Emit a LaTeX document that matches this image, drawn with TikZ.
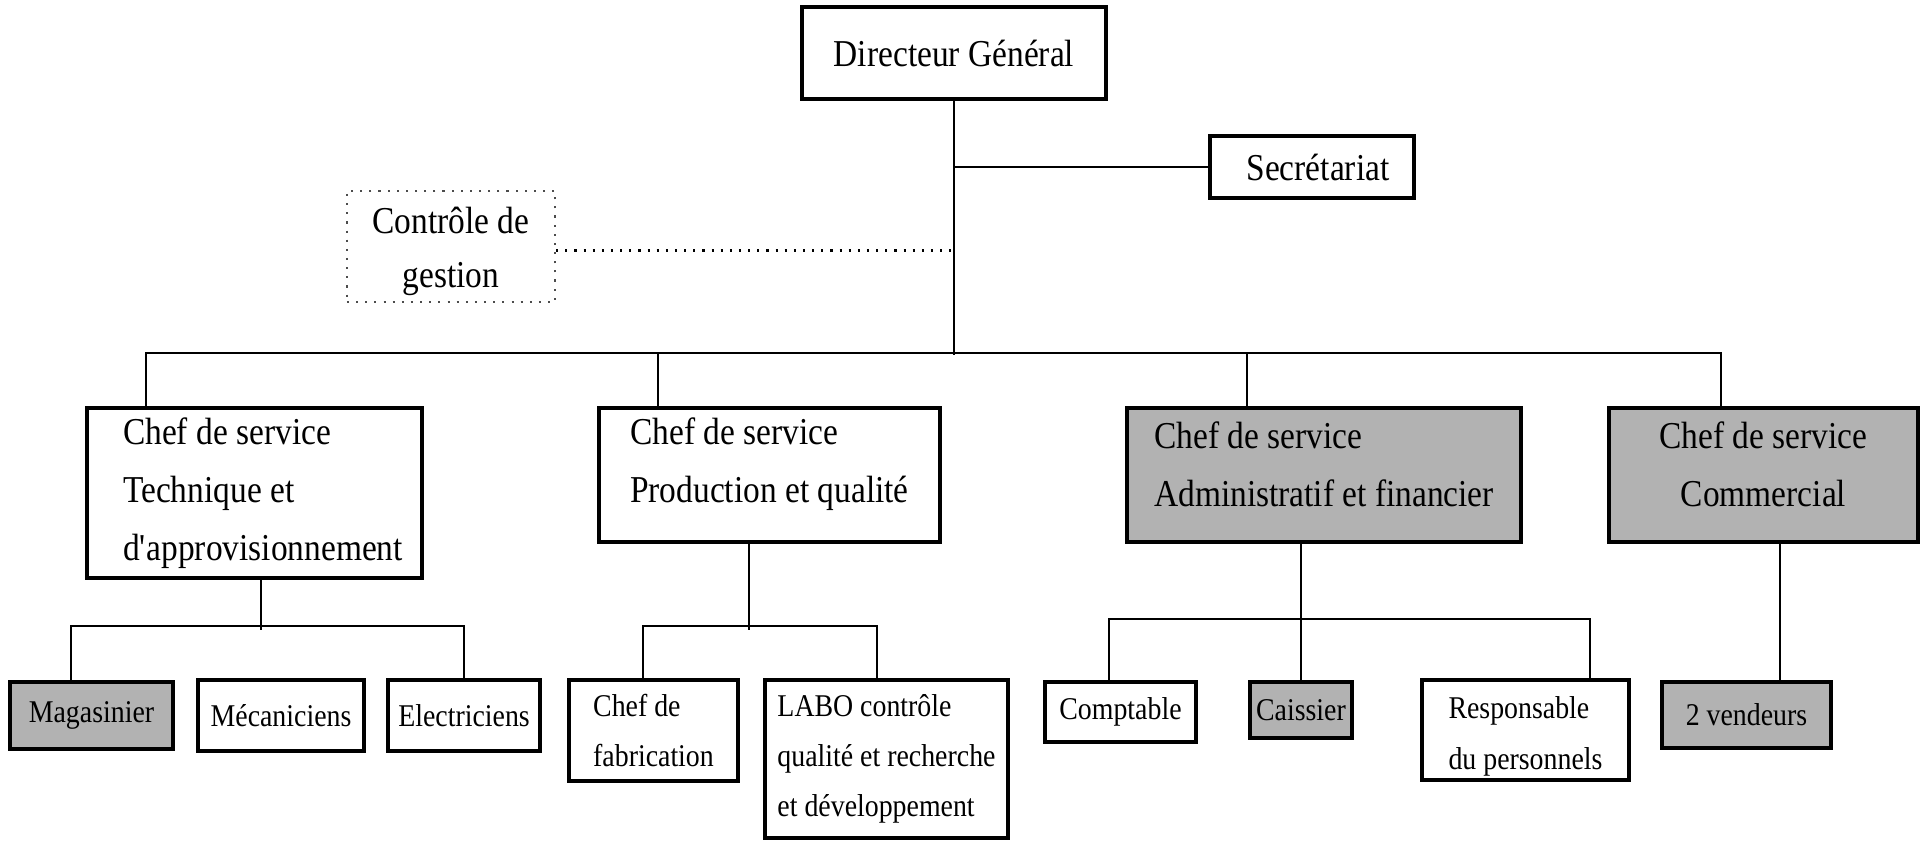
\documentclass[tikz,border=0pt]{standalone}
\usepackage{fontspec}
\setmainfont{Liberation Serif}[FakeStretch=0.88]
\usepackage{tikz}

\begin{document}
\begin{tikzpicture}[x=0.01cm,y=-0.01cm]
\tikzstyle{every node}+=[inner sep=0pt]
\tikzstyle{chef}=[draw, black, line width=1pt, rectangle, align=left, font=\fontsize{10.8}{16.4}\selectfont]
\tikzstyle{agent}=[draw, black, line width=1pt, rectangle, align=left, font=\fontsize{9}{14.3}\selectfont]
\tikzstyle{grise}=[fill=black!30]
\tikzstyle{lien}=[black, line width=0.55pt]
\useasboundingbox (0,0) rectangle (1920,842);
\node [chef, minimum width=3.04cm, minimum height=0.92cm] (dg) at (954,53) {Directeur Général};
\node [chef, minimum width=2.04cm, minimum height=0.62cm] (sec) at (1312,167) {\hspace{0.12cm}Secrétariat};
\node [chef, draw=black!70, line width=0.6pt, dotted, align=center, minimum width=2.08cm, minimum height=1.11cm, font=\fontsize{10.8}{15.3}\selectfont] (cg) at (451,246.5) {Contrôle de\\gestion\\[-15.8pt]};
\node [chef, minimum width=3.35cm, minimum height=1.70cm] (tech) at (254.5,493) {\hspace*{0.17cm}Chef de service\\\hspace*{0.17cm}Technique et\\\hspace*{0.17cm}d\textquotesingle approvisionnement};
\node [chef, minimum width=3.41cm, minimum height=1.34cm] (prod) at (769.5,475) {Chef de service\\Production et qualité\\[-8pt]};
\node [chef, grise, minimum width=3.94cm, minimum height=1.34cm] (admin) at (1324,475) {Chef de service\\Administratif et financier\\[-10.2pt]};
\node [chef, grise, align=center, minimum width=3.09cm, minimum height=1.34cm] (com) at (1763.5,475) {Chef de service\\Commercial\\[-10.2pt]};
\node [agent, grise, minimum width=1.63cm, minimum height=0.67cm] (mag) at (91.5,715.5) {Magasinier};
\node [agent, minimum width=1.66cm, minimum height=0.71cm] (meca) at (281,715.5) {Mécaniciens};
\node [agent, minimum width=1.52cm, minimum height=0.71cm] (elec) at (464,715.5) {Electriciens};
\node [agent, minimum width=1.69cm, minimum height=1.01cm] (fab) at (653.5,730.5) {Chef de\\fabrication};
\node [agent, minimum width=2.43cm, minimum height=1.58cm] (labo) at (886.5,759) {LABO contrôle\\qualité et recherche\\et développement};
\node [agent, minimum width=1.51cm, minimum height=0.60cm] (compta) at (1120.5,712) {Comptable};
\node [agent, grise, minimum width=1.02cm, minimum height=0.56cm] (caisse) at (1301,710) {Caissier};
\node [agent, minimum width=2.07cm, minimum height=1.00cm] (rh) at (1525.5,730) {Responsable\\du personnels\\[-16pt]};
\node [agent, grise, minimum width=1.69cm, minimum height=0.66cm] (vend) at (1746.5,715) {2 vendeurs};
\coordinate (bus) at (954,355);
\draw [lien] (dg.south) -- (bus);
\draw [lien] (dg.south |- sec.west) -- (sec.west);
\draw [black, line width=0.6pt, dotted] ([yshift=-0.04cm]cg.east) -- ([yshift=-0.04cm]cg.east -| dg.south);
\draw [lien] ([xshift=0.61cm]tech.north west) -- ++(0,-53) -| ([xshift=1.14cm]com.north west);
\draw [lien] ([xshift=0.61cm]prod.north west) -- ++(0,-53);
\draw [lien] ([xshift=1.22cm]admin.north west) -- ++(0,-53);
\draw [lien] ([xshift=0.065cm]tech.south) -- ++(0,50);
\draw [lien] ([xshift=0.63cm]mag.north west) -- ++(0,-54) -| (elec.north);
\draw [lien] ([xshift=1.52cm]prod.south west) -- ++(0,86);
\draw [lien] ([xshift=0.76cm]fab.north west) -- ++(0,-52) -| ([xshift=1.14cm]labo.north west);
\draw [lien] (admin.south -| caisse.north) -- (caisse.north);
\draw [lien] ([xshift=0.66cm]compta.north west) -- ++(0,-61) -| ([xshift=1.70cm]rh.north west);
\coordinate (v) at ([xshift=1.2cm]vend.north west);
\draw [lien] (v) -- (v |- com.south);
\end{tikzpicture}
\end{document}
